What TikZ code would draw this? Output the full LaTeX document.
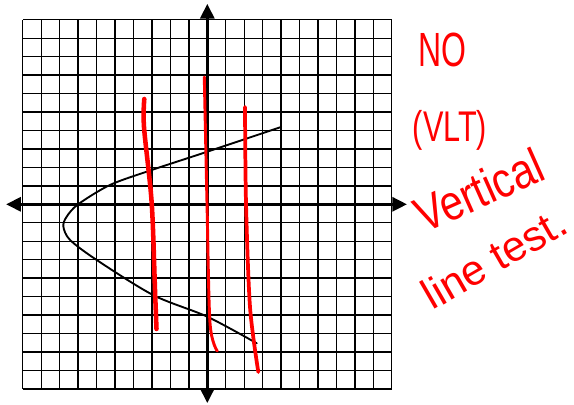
\documentclass[tikz,border=0pt]{standalone}
\usepackage{fontspec}
\setmainfont{Liberation Sans}
\usepackage{xcolor}
\usepackage{tikz}
\usetikzlibrary{arrows.meta}
\definecolor{ink}{HTML}{FF0000}

\begin{document}
\begin{tikzpicture}[x=0.75pt,y=-0.75pt,
    gridline/.style={black,line width=1pt},
    axis/.style={black,line width=2.2pt,{Triangle[length=11pt,width=10.5pt]}-{Triangle[length=11pt,width=10.5pt]}},
    curve/.style={black,line width=1.4pt,line cap=round},
    pen/.style={ink,line cap=round,line join=round},
    hand/.style={ink,inner sep=0pt}]
    \useasboundingbox (0,0) rectangle (574,404);
    \begin{scope}[shift={(207.3,204.3)},x=13.84pt,y=13.84pt]
      \draw[gridline,step=1] (-10,-10) grid (10,10);
      \draw[axis] (-10.9,0)--(10.82,0);
      \draw[axis] (0,-10.77)--(0,10.86);
      \draw[curve] plot[smooth] coordinates {(4.0,4.19) (0,2.85) (-3.01,1.86) (-5.27,1.05) (-7.0,0)
        (-7.62,-0.67) (-7.8,-1.2) (-7.44,-1.93) (-5.99,-3.02) (-2.93,-4.92) (0,-6.09) (2.68,-7.53)};
    \end{scope}
    \draw[pen,line width=3.4pt] plot[smooth] coordinates {(144.3,99) (144,127) (151.7,203) (155,290) (156.5,329)};
    \draw[pen,line width=2.2pt] plot[smooth] coordinates {(204.3,77) (207,203) (210,323) (217.3,351)};
    \draw[pen,line width=2.8pt] plot[smooth] coordinates {(245,107) (246,203) (250,307) (258.3,372)};
    \node[hand,font=\fontsize{24}{24}\selectfont,yscale=1.5] (no) at (442,50) {NO};
    \node[hand,font=\fontsize{23}{23}\selectfont,yscale=1.4] (vlt) at (450,130) {(VLT)};
    \node[hand,font=\fontsize{31}{31}\selectfont,rotate=24,yscale=1.2] (vert) at (479,190) {Vertical};
    \node[hand,font=\fontsize{32}{32}\selectfont,rotate=30] (test) at (494,258) {line test.};
  \end{tikzpicture}
\end{document}
